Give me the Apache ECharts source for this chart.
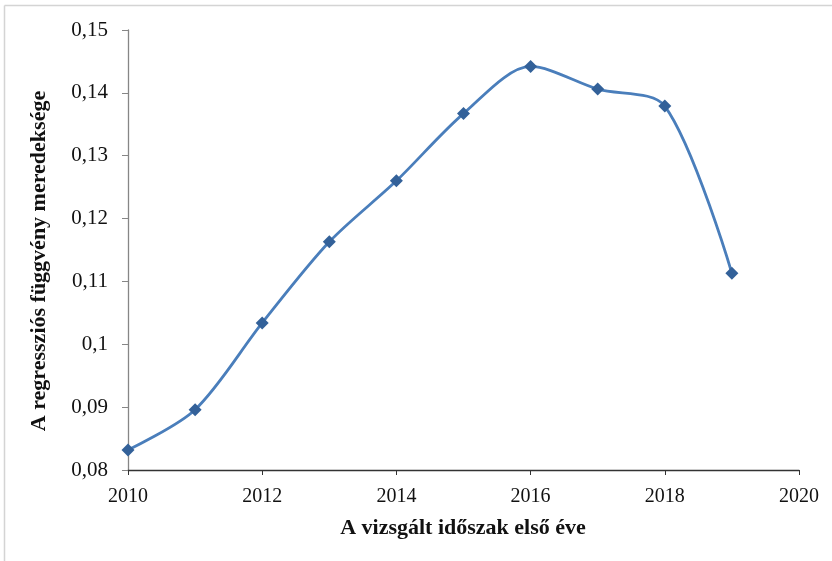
<!DOCTYPE html>
<html><head><meta charset="utf-8">
<script src="https://cdn.jsdelivr.net/npm/echarts@6/dist/echarts.min.js"></script>
<style>html,body{margin:0;padding:0;background:#fff}#c{width:832px;height:561px}</style>
</head><body><div id="c"></div>
<script>
const years = [2010, 2011, 2012, 2013, 2014, 2015, 2016, 2017, 2018, 2019];
const slopes = [0.0832, 0.0896, 0.1034, 0.1163, 0.1260, 0.1367, 0.1442, 0.1406, 0.1379, 0.1113];
const xTitle = 'A vizsgált időszak első éve';
const yTitle = 'A regressziós függvény meredeksége';

const font = '"Liberation Serif", "Times New Roman", serif';
const chart = echarts.init(document.getElementById('c'), null, {renderer: 'canvas'});
chart.setOption({
  animation: false,
  backgroundColor: '#fff',
  grid: {left: 128, top: 30, width: 671, height: 440, containLabel: false},
  xAxis: {
    type: 'value', min: 2010, max: 2020, interval: 2,
    axisLine: {show: true, lineStyle: {color: '#333', width: 1.3}},
    axisTick: {show: true, length: 5, lineStyle: {color: '#333'}},
    axisLabel: {fontFamily: font, fontSize: 20, color: '#111', margin: 17,
      formatter: v => String(v)},
    splitLine: {show: false}
  },
  yAxis: {
    type: 'value', min: 0.08, max: 0.15, interval: 0.01,
    axisLine: {show: true, lineStyle: {color: '#868686', width: 1.3}},
    axisTick: {show: true, length: 6, lineStyle: {color: '#868686'}},
    axisLabel: {fontFamily: font, fontSize: 21, color: '#111', margin: 20,
      formatter: v => String(Math.round(v * 100) / 100).replace('.', ',')},
    splitLine: {show: false}
  },
  series: [{
    type: 'line',
    data: years.map((y, i) => [y, slopes[i]]),
    smooth: 0.3,
    symbol: 'diamond', symbolSize: 13,
    itemStyle: {color: '#336199'},
    lineStyle: {color: '#4a7ebb', width: 2.8},
    z: 3
  }],
  graphic: [
    {type: 'line', shape: {x1: 4.5, y1: 5.5, x2: 832, y2: 5.5}, style: {stroke: '#d4d4d4', lineWidth: 1.5}},
    {type: 'line', shape: {x1: 4.5, y1: 5.5, x2: 4.5, y2: 561}, style: {stroke: '#d4d4d4', lineWidth: 1.5}},
    {type: 'text', x: 463, y: 528, style: {text: xTitle, fontFamily: font, fontWeight: 'bold', fontSize: 22, fill: '#111', align: 'center', verticalAlign: 'middle'}},
    {type: 'text', x: 39, y: 261, rotation: Math.PI / 2, style: {text: yTitle, fontFamily: font, fontWeight: 'bold', fontSize: 22, fill: '#111', align: 'center', verticalAlign: 'middle'}}
  ]
});
</script></body></html>
